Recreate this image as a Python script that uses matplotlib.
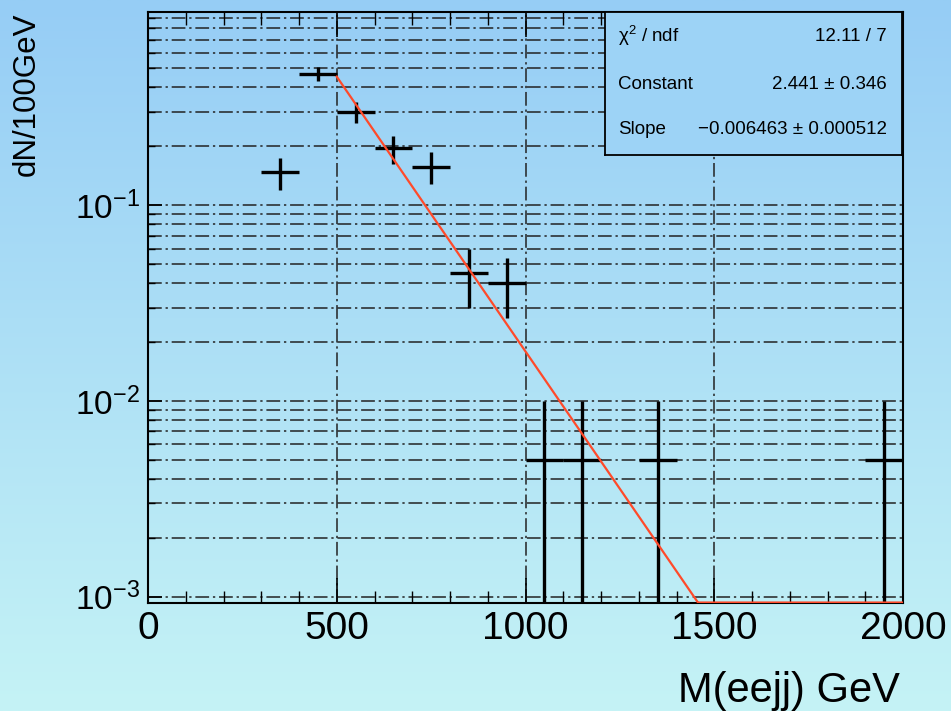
import matplotlib
matplotlib.use('Agg')
import matplotlib.pyplot as plt
import numpy as np
from matplotlib.ticker import MultipleLocator, LogLocator, NullFormatter

plt.rcParams['font.family'] = ['Liberation Sans', 'DejaVu Sans']
plt.rcParams['mathtext.fontset'] = 'custom'
plt.rcParams['mathtext.rm'] = 'Liberation Sans'
plt.rcParams['mathtext.it'] = 'Liberation Sans:italic'
plt.rcParams['mathtext.default'] = 'regular'

# histogram bins (GeV), content and errors
bin_centers = [350, 450, 550, 650, 750, 850, 950, 1050, 1150, 1350, 1950]
bin_values = [0.147, 0.47, 0.30, 0.195, 0.157, 0.045, 0.040, 0.005, 0.005, 0.005, 0.005]
bin_errors = [0.027, 0.04, 0.038, 0.032, 0.029, 0.015, 0.0135, 0.005, 0.005, 0.005, 0.005]
bin_halfwidth = 50

# exponential fit parameters
fit_constant = 2.441
fit_slope = -0.006463
fit_range = (500, 2000)

stat_labels = ['\u03c7$^2$ / ndf', 'Constant', 'Slope']
stat_values = ['12.11 / 7', '2.441 \u00b1 0.346', '\u22120.006463 \u00b1 0.000512']

ymin, ymax = 9.3e-4, 0.97

fig = plt.figure(figsize=(9.51, 7.11), dpi=100)

# gradient background over the whole figure
bg = fig.add_axes([0, 0, 1, 1], zorder=-10)
top = np.array([150, 205, 245]) / 255.0
bot = np.array([197, 243, 246]) / 255.0
t = np.linspace(0, 1, 256)[:, None]
grad = (top[None, :] * (1 - t) + bot[None, :] * t)[:, None, :]
bg.imshow(grad, aspect='auto', extent=[0, 1, 0, 1])
bg.axis('off')

ax = fig.add_axes([148 / 951, 1 - 603 / 711, 755 / 951, 591 / 711])
ax.patch.set_alpha(0)
ax.set_yscale('log')
ax.set_xlim(0, 2000)
ax.set_ylim(ymin, ymax)

# grid
grid_style = dict(color='#222222', lw=1.1, dashes=(9, 2.5, 1.5, 2.5))
for dec in [1e-3, 1e-2, 1e-1]:
    for m in range(1, 10):
        yv = dec * m
        if ymin < yv < ymax:
            ax.axhline(yv, zorder=1, **grid_style)
for xv in [500, 1000, 1500]:
    ax.axvline(xv, zorder=1, **grid_style)

# data points
vals = np.array(bin_values)
errs = np.array(bin_errors)
lower = np.minimum(errs, vals - 1e-6)
ax.errorbar(bin_centers, vals, xerr=bin_halfwidth, yerr=[lower, errs],
            fmt='none', ecolor='black', elinewidth=2.4, capsize=0, zorder=3)

# fit function, clipped at the frame bottom like ROOT does
xf = np.linspace(fit_range[0], fit_range[1], 600)
yf = np.exp(fit_constant + fit_slope * xf)
yf = np.maximum(yf, ymin * 1.005)
ax.plot(xf, yf, color='#ff4a2a', lw=1.6, zorder=4)

# ticks
ax.xaxis.set_major_locator(MultipleLocator(500))
ax.xaxis.set_minor_locator(MultipleLocator(100))
ax.yaxis.set_major_locator(LogLocator(base=10, numticks=10))
ax.yaxis.set_minor_locator(LogLocator(base=10, subs=np.arange(2, 10), numticks=20))
ax.yaxis.set_minor_formatter(NullFormatter())
ax.tick_params(axis='x', which='major', direction='in', length=18, width=1.2,
               top=True, labelsize=28, pad=6)
ax.tick_params(axis='x', which='minor', direction='in', length=9, width=1.0, top=True)
ax.tick_params(axis='y', which='major', direction='in', length=10, width=1.2,
               labelsize=24, pad=6)
ax.tick_params(axis='y', which='minor', direction='in', length=5, width=1.0)
for s in ax.spines.values():
    s.set_linewidth(1.5)

fig.text(900 / 951, 1 - 702 / 711, 'M(eejj) GeV', ha='right', va='baseline', fontsize=30)
fig.text(27 / 951, 1 - 12 / 711, 'dN/100GeV', ha='center', va='top', fontsize=22.5,
         rotation=90)

# stat box
bx0, by0, bx1, by1 = 605, 12, 902, 155
box = fig.add_axes([bx0 / 951, 1 - by1 / 711, (bx1 - bx0) / 951, (by1 - by0) / 711],
                   zorder=5)
box.set_facecolor((157 / 255, 211 / 255, 246 / 255))
box.set_xticks([])
box.set_yticks([])
for s in box.spines.values():
    s.set_linewidth(1.3)
row_y = [0.83, 0.49, 0.18]
for lab, val, yy in zip(stat_labels, stat_values, row_y):
    box.text(0.045, yy, lab, ha='left', va='center', fontsize=13.5, transform=box.transAxes)
    box.text(0.95, yy, val, ha='right', va='center', fontsize=13.5, transform=box.transAxes)

fig.savefig('out.png', dpi=100)
